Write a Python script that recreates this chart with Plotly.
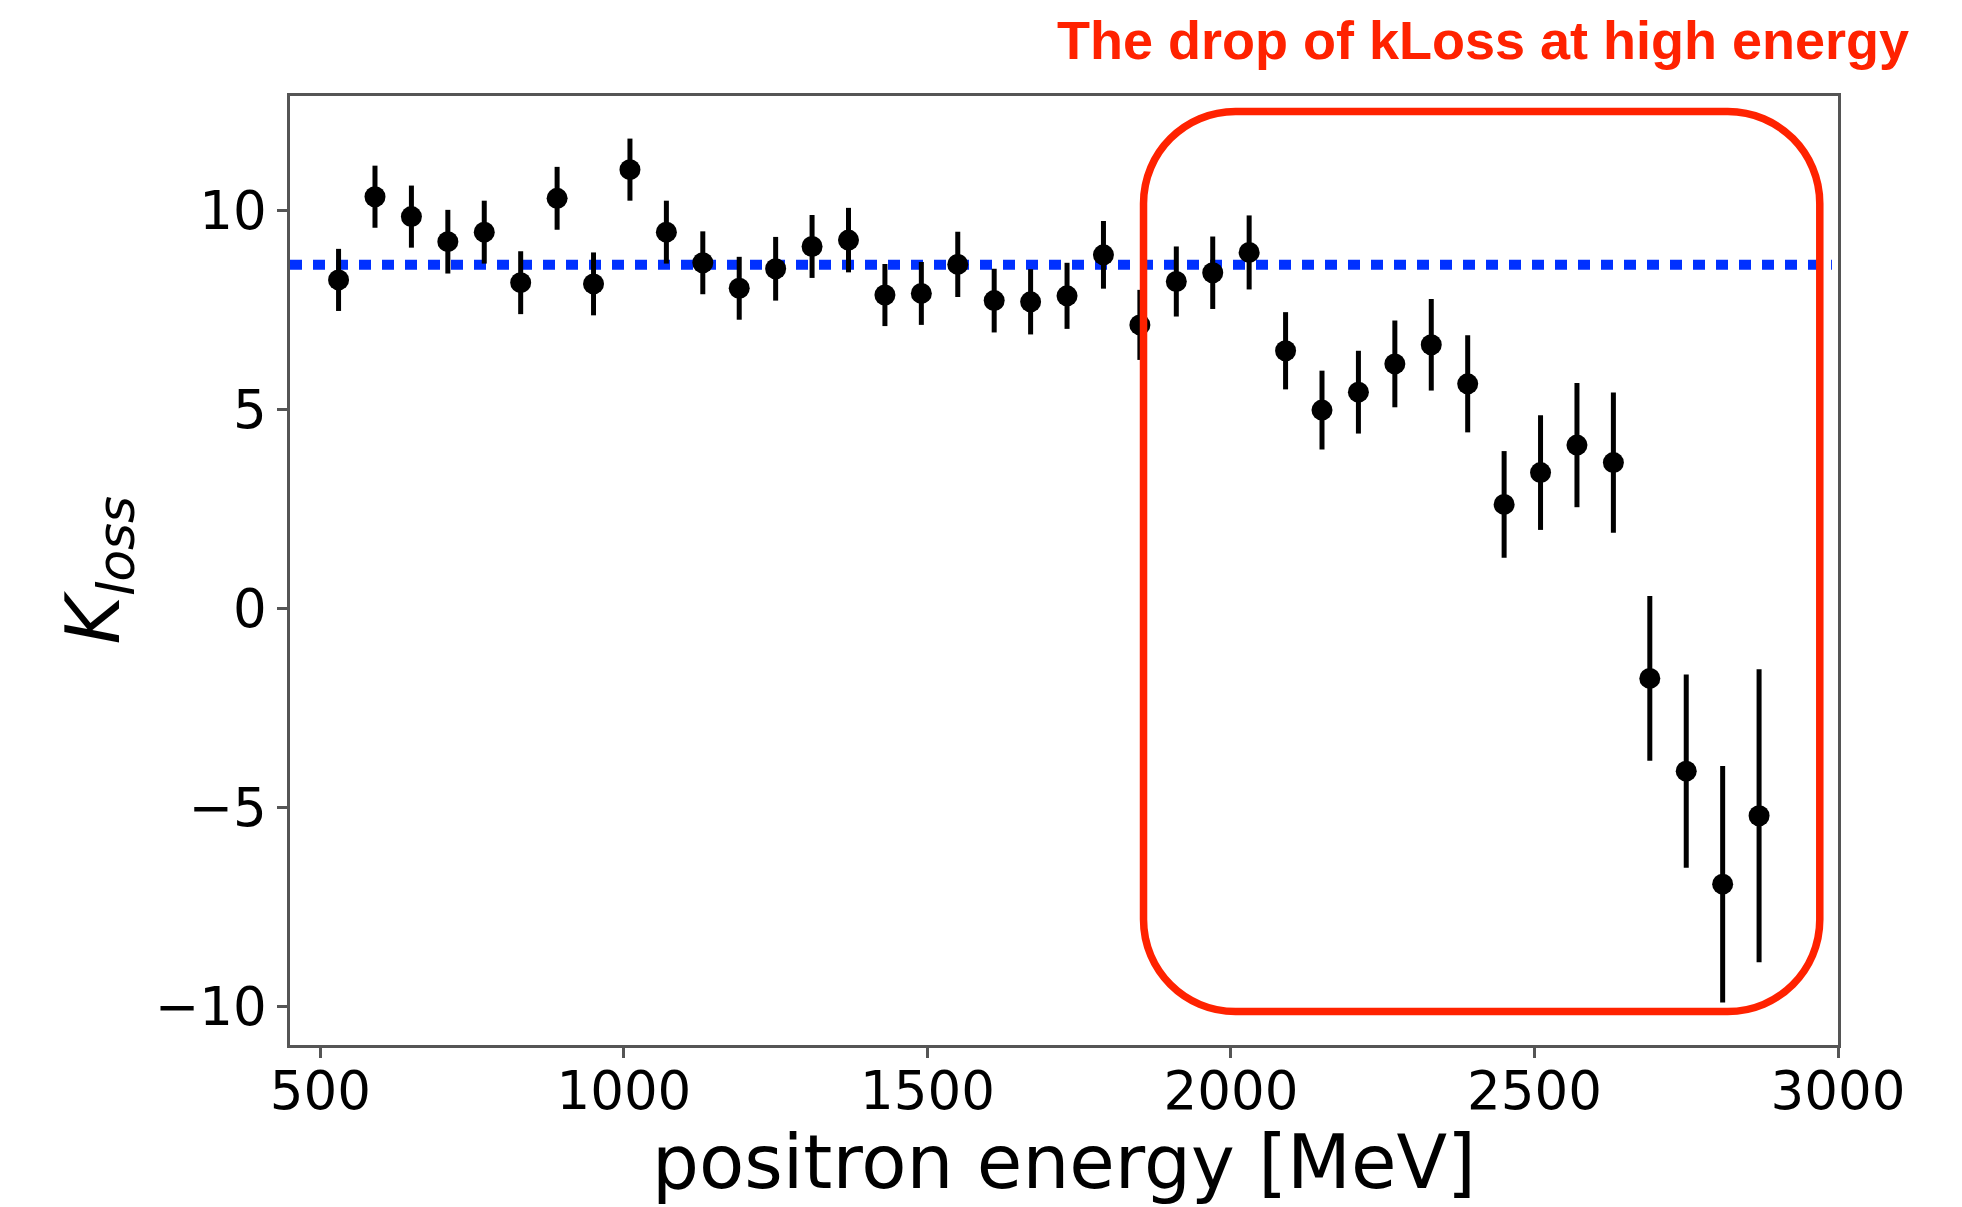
import plotly.graph_objects as go

# Positron energy bins [MeV]
energy = [530, 590, 650, 710, 770, 830, 890, 950, 1010, 1070,
          1130, 1190, 1250, 1310, 1370, 1430, 1490, 1550, 1610, 1670,
          1730, 1790, 1850, 1910, 1970, 2030, 2090, 2150, 2210, 2270,
          2330, 2390, 2450, 2510, 2570, 2630, 2690, 2750, 2810, 2870]

# Measured K_loss per bin
k_loss = [8.26, 10.35, 9.85, 9.22, 9.46, 8.19, 10.31, 8.16, 11.03, 9.46,
          8.69, 8.05, 8.54, 9.10, 9.26, 7.88, 7.92, 8.65, 7.74, 7.71,
          7.86, 8.89, 7.13, 8.22, 8.44, 8.95, 6.48, 4.99, 5.44, 6.15,
          6.63, 5.65, 2.62, 3.42, 4.11, 3.67, -1.75, -4.08, -6.92, -5.20]

# Statistical uncertainty per bin
k_err = [0.78, 0.78, 0.78, 0.80, 0.79, 0.79, 0.79, 0.79, 0.78, 0.79,
         0.79, 0.79, 0.80, 0.79, 0.81, 0.78, 0.79, 0.82, 0.80, 0.82,
         0.83, 0.85, 0.88, 0.88, 0.91, 0.93, 0.97, 0.99, 1.04, 1.09,
         1.15, 1.22, 1.34, 1.44, 1.56, 1.76, 2.07, 2.43, 2.97, 3.68]

# Reference level (mean at low energy)
k_mean = 8.64

x_ticks = [500, 1000, 1500, 2000, 2500, 3000]
y_ticks = [-10, -5, 0, 5, 10]

x_range = [450, 3000]
y_range = [-10.96, 12.88]

# Highlight box around the high-energy region (data units)
box_x0, box_x1 = 1856, 2970
box_y0, box_y1 = -10.12, 12.49

title_text = "The drop of kLoss at high energy"
x_title = "positron energy [MeV]"
y_title = "<i>K</i><sub><i>loss</i></sub>"

# Figure geometry
W, H = 1962, 1207
ML, MR, MT, MB = 290, 124, 96, 162
plot_w = W - ML - MR
plot_h = H - MT - MB

red = "#ff2200"
blue = "#0030ff"
font_main = "DejaVu Sans"

fig = go.Figure()

# Dotted mean line
fig.add_trace(go.Scatter(
    x=[x_range[0], 2990], y=[k_mean, k_mean],
    mode="lines",
    line=dict(color=blue, width=10, dash="12px,11px"),
    hoverinfo="skip", showlegend=False,
))

# Data points with error bars
fig.add_trace(go.Scatter(
    x=energy, y=k_loss,
    mode="markers",
    marker=dict(color="black", size=21),
    error_y=dict(type="data", array=k_err, visible=True,
                 color="black", thickness=5, width=0),
    showlegend=False,
))

# Rounded rectangle path in data coordinates
px_per_x = plot_w / (x_range[1] - x_range[0])
px_per_y = plot_h / (y_range[1] - y_range[0])
radius_px = 92
rx = radius_px / px_per_x
ry = radius_px / px_per_y
k = 0.5523
x0, x1, y0, y1 = box_x0, box_x1, box_y0, box_y1
path = (
    f"M {x0 + rx},{y1} L {x1 - rx},{y1} "
    f"C {x1 - rx + k * rx},{y1} {x1},{y1 - ry + k * ry} {x1},{y1 - ry} "
    f"L {x1},{y0 + ry} "
    f"C {x1},{y0 + ry - k * ry} {x1 - rx + k * rx},{y0} {x1 - rx},{y0} "
    f"L {x0 + rx},{y0} "
    f"C {x0 + rx - k * rx},{y0} {x0},{y0 + ry - k * ry} {x0},{y0 + ry} "
    f"L {x0},{y1 - ry} "
    f"C {x0},{y1 - ry + k * ry} {x0 + rx - k * rx},{y1} {x0 + rx},{y1} Z"
)
fig.add_shape(type="path", path=path, xref="x", yref="y",
              line=dict(color=red, width=7.5), layer="above")

axis_common = dict(
    showline=True, mirror=True, linecolor="#555", linewidth=2.5,
    ticks="outside", ticklen=10, tickwidth=2.5, tickcolor="#555",
    showgrid=False, zeroline=False,
    tickfont=dict(family=font_main, size=53, color="black"),
)

fig.update_layout(
    width=W, height=H,
    margin=dict(l=ML, r=MR, t=MT, b=MB, autoexpand=False),
    paper_bgcolor="white", plot_bgcolor="white",
    xaxis=dict(range=x_range, tickvals=x_ticks, ticklabelstandoff=-12,
               **axis_common),
    yaxis=dict(range=y_range, tickvals=y_ticks, **axis_common),
    showlegend=False,
)

# Axis titles and headline
fig.add_annotation(
    text=x_title, xref="paper", yref="paper",
    x=0.5, y=(0 - (1162 - (H - MB))) / plot_h,
    xanchor="center", yanchor="middle", showarrow=False,
    font=dict(family=font_main, size=74, color="black"),
)
fig.add_annotation(
    text=y_title, xref="paper", yref="paper",
    x=(98 - ML) / plot_w, y=0.5, textangle=-90,
    xanchor="center", yanchor="middle", showarrow=False,
    font=dict(family=font_main, size=74, color="black"),
)
fig.add_annotation(
    text=f"<b>{title_text}</b>", xref="paper", yref="paper",
    x=(1911 - ML) / plot_w, y=((H - MB) - 40) / plot_h,
    xanchor="right", yanchor="middle", showarrow=False,
    font=dict(family="Liberation Sans", size=54, color=red),
)

fig.write_html("out.html")
